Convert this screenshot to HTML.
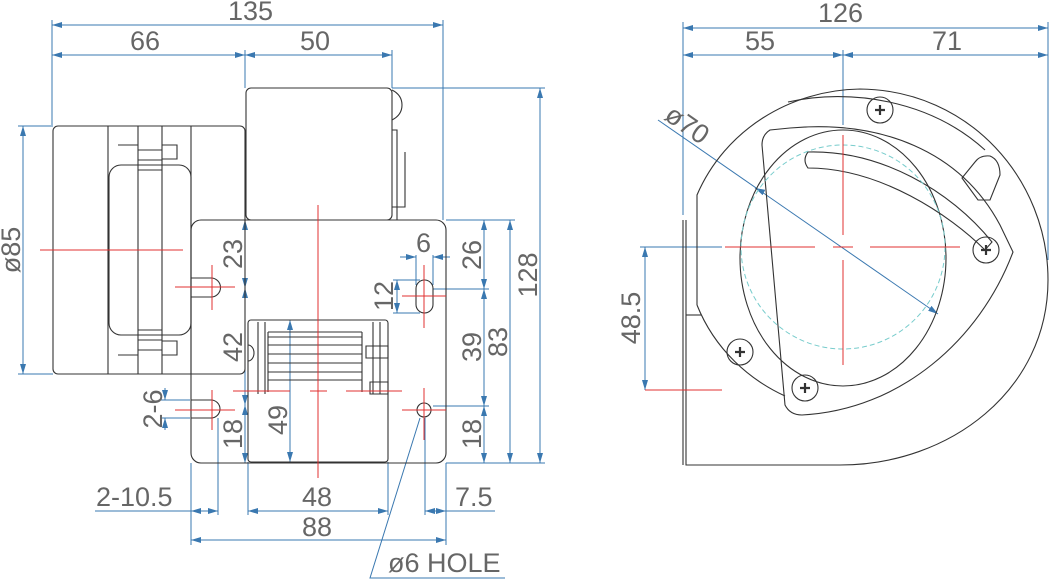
<!DOCTYPE html>
<html><head><meta charset="utf-8"><style>
html,body{margin:0;padding:0;background:#fff;}
svg{display:block}
text{font-family:"Liberation Sans",sans-serif;fill:#666;font-size:27px;}
.d{stroke:#3a78b0;stroke-width:1;fill:none}
.k{stroke:#333;stroke-width:1.1;fill:none}
.r{stroke:#e03030;stroke-width:1;fill:none}
.c{stroke:#7cc;stroke-width:1;fill:none;stroke-dasharray:5 3}
</style></head><body>
<svg width="1050" height="579" viewBox="0 0 1050 579" xmlns="http://www.w3.org/2000/svg">
<defs><marker id="a" viewBox="0 0 10 6" refX="10" refY="3" markerWidth="10" markerHeight="6" orient="auto-start-reverse"><path d="M0,0L10,3L0,6z" fill="#3a78b0"/></marker></defs>

<!-- LEFT VIEW -->
<g class="d">
<line x1="52" y1="20" x2="52" y2="125"/><line x1="443" y1="20" x2="443" y2="220"/>
<line x1="245" y1="50" x2="245" y2="88"/><line x1="392" y1="50" x2="392" y2="88"/>
<line x1="52" y1="25" x2="443" y2="25" marker-start="url(#a)" marker-end="url(#a)"/>
<line x1="52" y1="55" x2="245" y2="55" marker-start="url(#a)" marker-end="url(#a)"/>
<line x1="245" y1="55" x2="392" y2="55" marker-start="url(#a)" marker-end="url(#a)"/>
<line x1="18" y1="126" x2="53" y2="126"/><line x1="18" y1="374" x2="53" y2="374"/>
<line x1="23" y1="126" x2="23" y2="374" marker-start="url(#a)" marker-end="url(#a)"/>
<line x1="392" y1="88" x2="545" y2="88"/><line x1="446" y1="220" x2="515" y2="220"/>
<line x1="433" y1="289" x2="489" y2="289"/><line x1="433" y1="406" x2="489" y2="406"/>
<line x1="446" y1="463" x2="545" y2="463"/>
<line x1="540" y1="88" x2="540" y2="463" marker-start="url(#a)" marker-end="url(#a)"/>
<line x1="510" y1="220" x2="510" y2="463" marker-start="url(#a)" marker-end="url(#a)"/>
<line x1="484" y1="220" x2="484" y2="289" marker-start="url(#a)" marker-end="url(#a)"/>
<line x1="484" y1="289" x2="484" y2="406" marker-start="url(#a)" marker-end="url(#a)"/>
<line x1="484" y1="406" x2="484" y2="463" marker-start="url(#a)" marker-end="url(#a)"/>
<line x1="416" y1="255" x2="416" y2="285"/><line x1="433" y1="255" x2="433" y2="285"/>
<line x1="400" y1="257" x2="416" y2="257" marker-end="url(#a)"/><line x1="450" y1="257" x2="433" y2="257" marker-end="url(#a)"/>
<line x1="393" y1="280" x2="420" y2="280"/><line x1="393" y1="313" x2="420" y2="313"/>
<line x1="397" y1="280" x2="397" y2="313" marker-start="url(#a)" marker-end="url(#a)"/>
<line x1="245" y1="220" x2="245" y2="288" marker-start="url(#a)" marker-end="url(#a)"/>
<line x1="245" y1="288" x2="245" y2="405" marker-start="url(#a)" marker-end="url(#a)"/>
<line x1="245" y1="405" x2="245" y2="463" marker-start="url(#a)" marker-end="url(#a)"/>
<line x1="290" y1="320" x2="290" y2="462" marker-start="url(#a)" marker-end="url(#a)"/>
<line x1="160" y1="400" x2="190" y2="400"/><line x1="160" y1="418" x2="190" y2="418"/>
<line x1="165" y1="388" x2="165" y2="400" marker-end="url(#a)"/><line x1="165" y1="430" x2="165" y2="418" marker-end="url(#a)"/>
<line x1="191" y1="463" x2="191" y2="545"/><line x1="218" y1="418" x2="218" y2="515"/>
<line x1="248" y1="462" x2="248" y2="515"/><line x1="388" y1="462" x2="388" y2="515"/>
<line x1="425" y1="418" x2="425" y2="515"/><line x1="446" y1="463" x2="446" y2="545"/>
<line x1="95" y1="511" x2="191" y2="511"/>
<line x1="191" y1="511" x2="218" y2="511" marker-start="url(#a)" marker-end="url(#a)"/>
<line x1="248" y1="511" x2="388" y2="511" marker-start="url(#a)" marker-end="url(#a)"/>
<line x1="425" y1="511" x2="446" y2="511" marker-start="url(#a)" marker-end="url(#a)"/>
<line x1="446" y1="511" x2="495" y2="511"/>
<line x1="191" y1="540" x2="446" y2="540" marker-start="url(#a)" marker-end="url(#a)"/>
<polyline points="420,418 370,578 505,578"/>
</g>
<g>
<text x="228" y="20">135</text><text x="130" y="50">66</text><text x="300" y="50">50</text>
<text transform="translate(20,250) rotate(-90)" text-anchor="middle">ø85</text>
<text transform="translate(242,254) rotate(-90)" text-anchor="middle">23</text>
<text transform="translate(242,347) rotate(-90)" text-anchor="middle">42</text>
<text transform="translate(242,434) rotate(-90)" text-anchor="middle">18</text>
<text transform="translate(287,420) rotate(-90)" text-anchor="middle">49</text>
<text transform="translate(162,409) rotate(-90)" text-anchor="middle">2-6</text>
<text transform="translate(393,296) rotate(-90)" text-anchor="middle">12</text>
<text x="416" y="252">6</text>
<text transform="translate(481,255) rotate(-90)" text-anchor="middle">26</text>
<text transform="translate(481,347) rotate(-90)" text-anchor="middle">39</text>
<text transform="translate(481,434) rotate(-90)" text-anchor="middle">18</text>
<text transform="translate(507,342) rotate(-90)" text-anchor="middle">83</text>
<text transform="translate(537,275) rotate(-90)" text-anchor="middle">128</text>
<text x="96" y="506">2-10.5</text><text x="302" y="506">48</text><text x="302" y="536">88</text>
<text x="455" y="506">7.5</text><text x="388" y="572">ø6 HOLE</text>
</g>
<g class="k">
<rect x="53" y="126" width="192" height="248" rx="5"/>
<path d="M108,126 h30 v248 h-30 z M162,126 h29 v248 h-29 z"/>
<path d="M118,145 h20 M162,145 h15 v14 h-15 M118,355 h20 M162,355 h15 v-14 h-15"/>
<path d="M138,150 h24 M138,160 h24 M138,170 h24 M138,330 h24 M138,340 h24 M138,350 h24"/>
<rect x="109" y="165" width="82" height="170" rx="12"/>
<rect x="246" y="88" width="146" height="132" rx="5"/>
<path d="M392,90 q10,5 10,15 q0,10 -10,15 M392,130 h5 v90 M405,152 v55 h-13"/>
<rect x="191" y="220" width="255" height="243" rx="10"/>
<path d="M191,278 h20 a9.5,9.5 0 0 1 0,19 h-20 M191,400 h20 a9,9 0 0 1 0,18 h-20"/>
<rect x="416" y="280" width="17" height="33" rx="8.5"/>
<circle cx="424" cy="410" r="7"/>
<rect x="248" y="320" width="140" height="142" rx="3"/>
<path d="M258,322 v72 M265,322 v72 M373,322 v72 M380,322 v72 M268,332 h94 M268,337 h94 M268,345 h94 M268,354 h94 M268,363 h94 M268,372 h94 M268,380 h94 M268,332 v60 M362,332 v60"/>
<path d="M366,346 h22 v12 h-22 z M370,382 h18 v12 h-18 z M248,345 a6,8 0 0 1 0,16"/>
</g>
<g class="r">
<line x1="40" y1="250" x2="183" y2="250"/>
<line x1="318" y1="205" x2="318" y2="478"/>
<line x1="175" y1="287" x2="235" y2="287"/><line x1="212" y1="265" x2="212" y2="310"/>
<line x1="175" y1="410" x2="235" y2="410"/><line x1="212" y1="390" x2="212" y2="430"/>
<line x1="233" y1="391" x2="290" y2="391"/><line x1="310" y1="391" x2="327" y2="391"/><line x1="346" y1="391" x2="402" y2="391"/>
<line x1="402" y1="296" x2="446" y2="296"/><line x1="424" y1="265" x2="424" y2="328"/>
<line x1="402" y1="410" x2="446" y2="410"/><line x1="424" y1="388" x2="424" y2="440"/>
</g>

<!-- RIGHT VIEW -->
<g class="d">
<line x1="683" y1="22" x2="683" y2="215"/><line x1="1048" y1="22" x2="1048" y2="260"/>
<line x1="843" y1="50" x2="843" y2="125"/>
<line x1="683" y1="28" x2="1048" y2="28" marker-start="url(#a)" marker-end="url(#a)"/>
<line x1="683" y1="55" x2="843" y2="55" marker-start="url(#a)" marker-end="url(#a)"/>
<line x1="843" y1="55" x2="1048" y2="55" marker-start="url(#a)" marker-end="url(#a)"/>
<line x1="658" y1="120" x2="938" y2="314" marker-end="url(#a)"/>
<line x1="757" y1="189" x2="755" y2="188" marker-end="url(#a)"/>
<line x1="640" y1="247" x2="722" y2="247"/>
<line x1="645" y1="247" x2="645" y2="390" marker-start="url(#a)" marker-end="url(#a)"/>
</g>
<g>
<text x="818" y="22">126</text><text x="745" y="50">55</text><text x="932" y="50">71</text>
<text transform="translate(682,132) rotate(35)" text-anchor="middle">ø70</text>
<text transform="translate(640,318) rotate(-90)" text-anchor="middle">48.5</text>
</g>
<g class="k">
<path d="M683,220 v245 M686,220 v245 h154"/>
<path d="M697,305 V195 C725,130 790,90 860,89 C970,90 1048,180 1048,280 C1048,390 950,465 840,465"/>
<path d="M697,305 C715,350 750,380 785,396"/>
<path d="M686,315 h15"/>
<path d="M788,102 C850,88 930,100 985,150"/>
<ellipse cx="843" cy="258" rx="103" ry="128"/>
<path d="M770,130 Q762,135 762,145 L785,405 Q790,415 802,415 C900,410 980,340 1013,252 L1000,225 C960,150 880,120 790,128 Z"/>
<path d="M808,152 Q802,160 808,168 C880,168 950,215 985,250 L992,242 C950,190 880,150 808,152 Z"/>
<path d="M962,178 L978,200 L990,200 L1000,175 Q1000,160 990,156 Q980,155 975,162 Z"/>
<g><circle cx="880" cy="110" r="13"/><circle cx="986" cy="250" r="13"/><circle cx="740" cy="352" r="13"/><circle cx="805" cy="388" r="13"/></g>
<g stroke-width="2.2"><path d="M875,110h10M880,105v10M981,250h10M986,245v10M735,352h10M740,347v10M800,388h10M805,383v10"/></g>
</g>
<circle class="c" cx="843" cy="247" r="102"/>
<g class="r">
<line x1="843" y1="135" x2="843" y2="235"/><line x1="843" y1="260" x2="843" y2="365"/>
<line x1="725" y1="247" x2="815" y2="247"/><line x1="833" y1="247" x2="853" y2="247"/><line x1="870" y1="247" x2="960" y2="247"/>
<line x1="645" y1="390" x2="722" y2="390"/>
</g>
</svg>
</body></html>
